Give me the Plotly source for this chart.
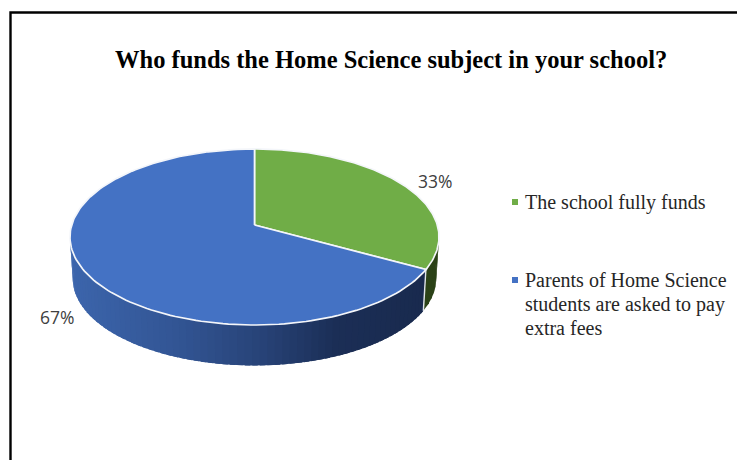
import numpy as np
import plotly.graph_objects as go

# Survey result
title = "Who funds the Home Science subject in your school?"
categories = ["The school fully funds",
              "Parents of Home Science<br>students are asked to pay<br>extra fees"]
shares = [33, 67]
share_labels = ["33%", "67%"]
top_colors = ["#70ad47", "#4472c4"]

# Geometry of the tilted disc, in page pixels
CX, CY = 254.5, 225.0
A, B, K = 182.8, 86.4, 0.136
DEPTH, SHRINK = 42.0, 0.985


def rim(angle_deg, lower=False):
    """Project a clockwise-from-top angle onto the disc rim, with perspective."""
    t = np.radians(angle_deg)
    u, v = np.sin(t), np.cos(t)
    d = 1 + K * v
    x, y = A * u / d, -B * v / d
    if lower:
        return CX + SHRINK * x, CY + SHRINK * y + DEPTH
    return CX + x, CY + y


def mix(stops, f):
    pos = [s[0] for s in stops]
    rgb = [np.interp(f, pos, [s[1][i] for s in stops]) for i in range(3)]
    return "rgb(%d,%d,%d)" % tuple(int(round(c)) for c in rgb)


blue_wall = [(0.0, (60, 101, 172)), (0.3, (50, 85, 148)), (0.55, (39, 66, 118)),
             (0.75, (27, 46, 86)), (1.0, (25, 42, 78))]
green_wall = [(0.0, (43, 66, 23)), (1.0, (43, 66, 23))]

fig = go.Figure()


def poly(xs, ys, fill):
    fig.add_trace(go.Scatter(x=xs, y=ys, mode="lines", fill="toself", fillcolor=fill,
                             line=dict(width=0), hoverinfo="skip", showlegend=False))


split = 360 * shares[0] / sum(shares)

# Side wall as narrow overlapping strips, painted from the left end towards the
# right so that each one covers the seam of its neighbour
for start, stop, stops, n in ((263, split, blue_wall, 70), (split, 97, green_wall, 6)):
    edges = np.linspace(start, stop, n + 1)
    for i, (a0, a1) in enumerate(zip(edges[:-1], edges[1:])):
        a_end = a1 - 1.5 if i < n - 1 else a1
        xs0, ys0 = rim(a0)
        xs1, ys1 = rim(a_end)
        xs2, ys2 = rim(a_end, True)
        xs3, ys3 = rim(a0, True)
        f = (0.5 * (xs0 + rim(a1)[0]) - 70) / (425 - 70)
        poly([xs0, xs1, xs2, xs3, xs0], [ys0, ys1, ys2, ys3, ys0],
             mix(stops, np.clip(f, 0, 1)))

# Pale edge where the two wall sections meet
xa, ya = rim(split)
xb, yb = rim(split, True)
fig.add_trace(go.Scatter(x=[xa, xb], y=[ya, yb], mode="lines",
                         line=dict(color="#dfe4ea", width=1.4),
                         hoverinfo="skip", showlegend=False))

# Top faces of the slices
bounds = [(0.0, split), (split, 360.0)]
for (a0, a1), color in zip(bounds, top_colors):
    angles = np.linspace(a0, a1, 160)
    px, py = rim(angles)
    fig.add_trace(go.Scatter(x=np.r_[CX, px, CX], y=np.r_[CY, py, CY], mode="lines",
                             fill="toself", fillcolor=color,
                             line=dict(color="#f4f6fa", width=1.7),
                             hoverinfo="skip", showlegend=False))

# Frame around the chart
fig.add_trace(go.Scatter(x=[10.5, 10.5, 737], y=[460, 12.5, 12.5], mode="lines",
                         line=dict(color="#000000", width=2.4),
                         hoverinfo="skip", showlegend=False))

# Legend squares
legend_y = [202, 280]
fig.add_trace(go.Scatter(x=[515, 515], y=legend_y, mode="markers",
                         marker=dict(symbol="square", size=6, color=top_colors),
                         hoverinfo="skip", showlegend=False))

annotations = [
    dict(x=391, y=59, text="<b>%s</b>" % title, showarrow=False,
         font=dict(family="Liberation Serif", size=24.5, color="#000000"),
         xanchor="center", yanchor="middle"),
    dict(x=434.5, y=181, text=share_labels[0], showarrow=False,
         font=dict(family="Open Sans", size=17.5, color="#404040"),
         xanchor="center", yanchor="middle"),
    dict(x=57, y=317, text=share_labels[1], showarrow=False,
         font=dict(family="Open Sans", size=17.5, color="#404040"),
         xanchor="center", yanchor="middle"),
]

# Legend text, one annotation per line for an even 24px line pitch
for name, y0 in zip(categories, legend_y):
    for k, line in enumerate(name.split("<br>")):
        annotations.append(dict(x=522.5, y=y0 + 24 * k, text=line, showarrow=False,
                                font=dict(family="Liberation Serif", size=20, color="#262626"),
                                xanchor="left", yanchor="middle"))

fig.update_layout(
    width=737, height=460, margin=dict(l=0, r=0, t=0, b=0),
    paper_bgcolor="#ffffff", plot_bgcolor="#ffffff", showlegend=False,
    xaxis=dict(range=[0, 737], visible=False, fixedrange=True),
    yaxis=dict(range=[460, 0], visible=False, fixedrange=True),
    annotations=annotations,
)

fig.write_html("out.html", config=dict(displayModeBar=False))
